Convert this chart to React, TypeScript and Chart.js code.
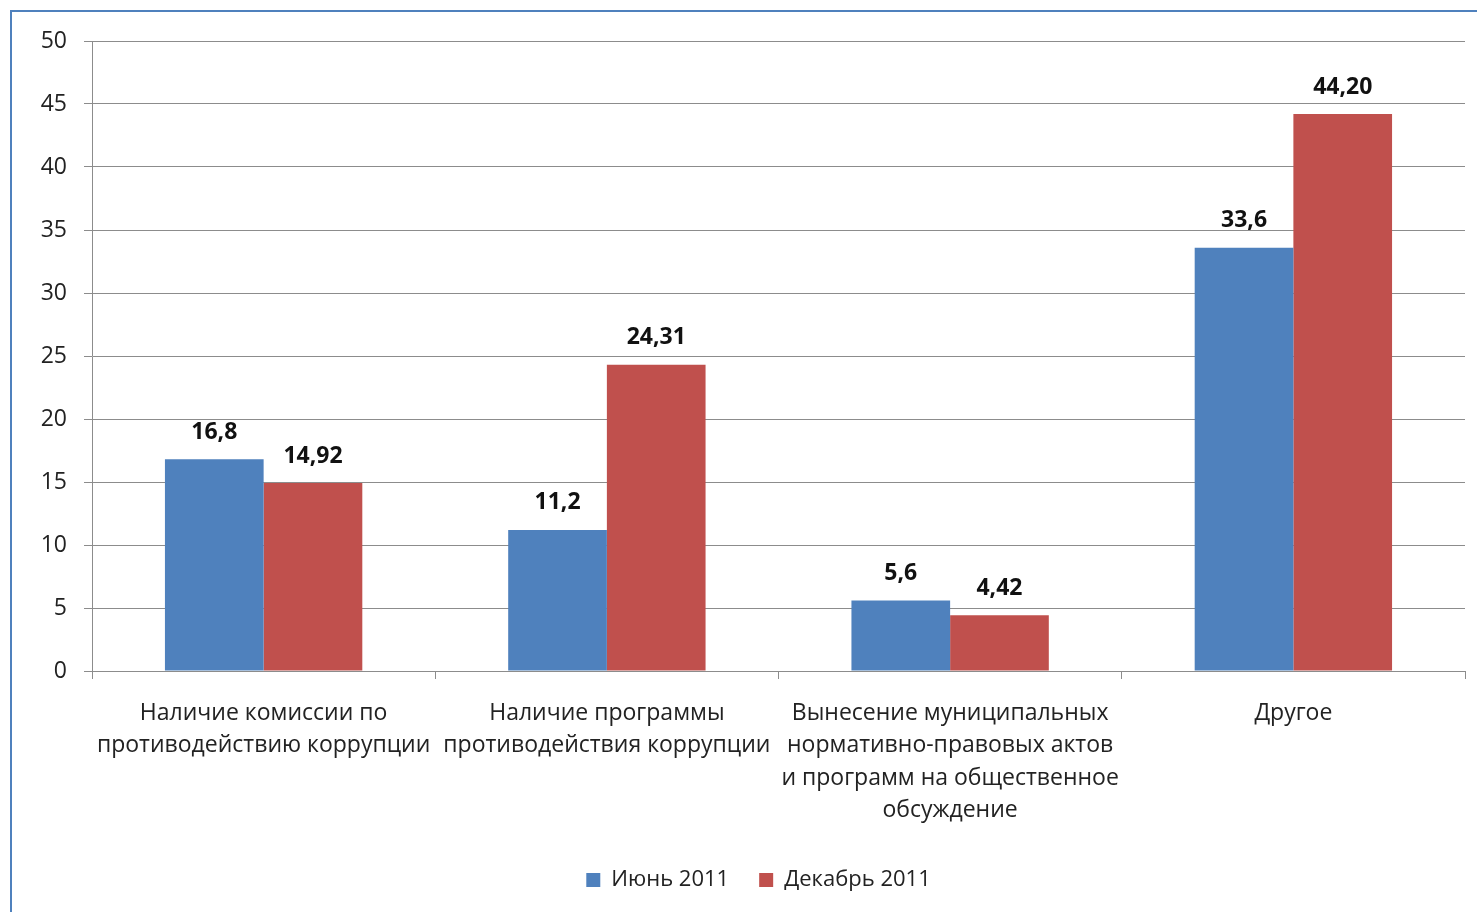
import React, { useEffect, useRef } from "react";
import { Chart, registerables } from "chart.js";

Chart.register(...registerables);

const categories: (string | string[])[] = [
  ["Наличие комиссии по", "противодействию коррупции"],
  ["Наличие программы", "противодействия коррупции"],
  ["Вынесение муниципальных", "нормативно-правовых актов", "и программ на общественное", "обсуждение"],
  "Другое",
];
const june2011 = [16.8, 11.2, 5.6, 33.6];
const dec2011 = [14.92, 24.31, 4.42, 44.2];
const juneLabels = ["16,8", "11,2", "5,6", "33,6"];
const decLabels = ["14,92", "24,31", "4,42", "44,20"];
const seriesNames = ["Июнь 2011", "Декабрь 2011"];
const yTicks = [0, 5, 10, 15, 20, 25, 30, 35, 40, 45, 50];

const FONT = "'Open Sans', 'Noto Sans', sans-serif";

const valueLabelPlugin = {
  id: "valueLabels",
  afterDatasetsDraw(chart: any) {
    const ctx = chart.ctx;
    const texts = [juneLabels, decLabels];
    ctx.save();
    ctx.font = `bold 23px ${FONT}`;
    ctx.fillStyle = "#111";
    ctx.textAlign = "center";
    ctx.textBaseline = "middle";
    chart.data.datasets.forEach((_: any, di: number) => {
      const meta = chart.getDatasetMeta(di);
      meta.data.forEach((bar: any, i: number) => {
        ctx.fillText(texts[di][i], bar.x, bar.y - 27);
      });
    });
    ctx.restore();
  },
};

const legendShiftPlugin = {
  id: "legendShift",
  afterLayout(chart: any) {
    const lg = chart.legend;
    if (!lg) return;
    const dx = 26;
    const dy = 8;
    lg.left += dx;
    lg.right += dx;
    lg.top += dy;
    lg.bottom += dy;
  },
};

export default function App() {
  const ref = useRef<HTMLCanvasElement>(null);
  useEffect(() => {
    if (!ref.current) return;
    const chart = new Chart(ref.current, {
      type: "bar",
      data: {
        labels: categories,
        datasets: [
          { label: seriesNames[0], data: june2011, backgroundColor: "#4F81BD", barPercentage: 1, categoryPercentage: 0.575 },
          { label: seriesNames[1], data: dec2011, backgroundColor: "#C0504D", barPercentage: 1, categoryPercentage: 0.575 },
        ],
      },
      options: {
        animation: false,
        responsive: false,
        maintainAspectRatio: false,
        layout: { padding: { left: 0, right: 12, top: 41, bottom: 19 } },
        plugins: {
          tooltip: { enabled: false },
          legend: {
            position: "bottom",
            labels: {
              font: { family: FONT, size: 22 },
              color: "#222",
              boxWidth: 14,
              boxHeight: 14,
              padding: 30,
            },
          },
        },
        scales: {
          x: {
            afterFit: (s: any) => { s.height = 160; },
            grid: { display: true, drawOnChartArea: false, drawTicks: true, tickLength: 8, color: "#8c8c8c", offset: true },
            border: { display: true, color: "#8c8c8c" },
            ticks: {
              autoSkip: false,
              maxRotation: 0,
              minRotation: 0,
              padding: 18,
              color: "#222",
              font: { family: FONT, size: 23, lineHeight: 1.41 },
            },
          },
          y: {
            min: 0,
            max: 50,
            afterFit: (s: any) => { s.width = 92; },
            afterBuildTicks: (s: any) => { s.ticks = yTicks.map((v) => ({ value: v })); },
            grid: { color: "#8c8c8c", tickLength: 8 },
            border: { display: true, color: "#8c8c8c" },
            ticks: {
              padding: 17,
              color: "#222",
              font: { family: FONT, size: 23 },
            },
          },
        },
      },
      plugins: [valueLabelPlugin, legendShiftPlugin],
    } as any);
    return () => chart.destroy();
  }, []);
  return (
    <div style={{ position: "fixed", left: 0, top: 0, width: 1477, height: 912, overflow: "hidden", background: "#fff" }}>
      <canvas ref={ref} width={1477} height={912} style={{ position: "absolute", left: 0, top: 0 }} />
      <div style={{ position: "absolute", left: 10, top: 10, width: 3000, height: 3000, borderLeft: "2px solid #4F81BD", borderTop: "2px solid #4F81BD", pointerEvents: "none" }} />
    </div>
  );
}
